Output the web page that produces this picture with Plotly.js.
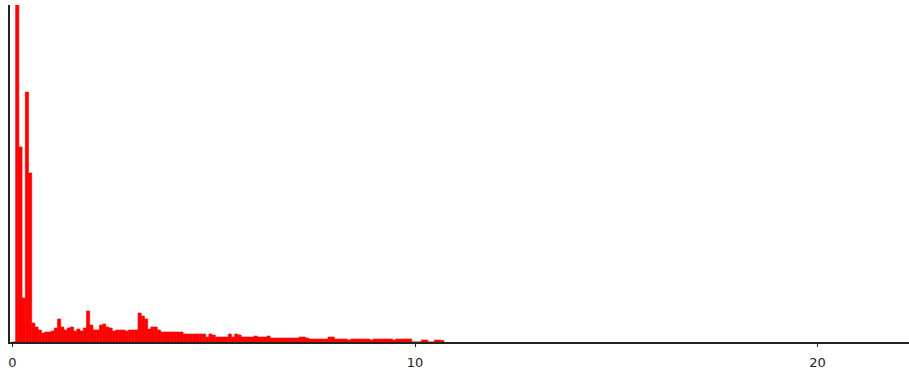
<!DOCTYPE html>
<html>
<head>
<meta charset="utf-8">
<script src="https://cdn.plot.ly/plotly-3.0.1.min.js"></script>
<style>html,body{margin:0;padding:0;background:#fff;}#chart{width:909px;height:376px;}</style>
</head>
<body>
<div id="chart"></div>
<script>
// Histogram bin width (x units) and bar heights per bin, starting at x = 0
const binWidth = 0.08;
const counts = [
  0, 337, 195, 44, 250, 169, 19, 15, 12, 9,
  10, 10, 11, 14, 23, 15, 12, 14, 15, 11,
  13, 11, 14, 31, 17, 12, 12, 17, 18, 15,
  14, 11, 12, 12, 12, 11, 12, 12, 12, 29,
  26, 23, 13, 15, 15, 12, 10, 10, 10, 10,
  10, 10, 10, 8, 8, 8, 8, 8, 8, 8,
  5, 8, 7, 5, 5, 5, 5, 8, 5, 8,
  7, 5, 5, 5, 5, 6, 5, 5, 5, 6,
  4, 4, 4, 4, 4, 4, 4, 4, 4, 5,
  5, 4, 3, 3, 3, 3, 3, 3, 5, 5,
  3, 3, 3, 3, 2, 3, 3, 3, 3, 3,
  3, 2, 3, 3, 3, 3, 3, 3, 2, 3,
  3, 3, 3, 3, 0, 0, 0, 2, 2, 0,
  0, 2, 2, 1.5
];
const tickValues = [0, 10, 20];
const tickLabels = ['0', '10', '20'];

const xCenters = counts.map((_, i) => (i + 0.5) * binWidth);

Plotly.newPlot('chart', [{
  type: 'bar',
  x: xCenters,
  y: counts,
  width: binWidth,
  marker: {color: '#ff0000', line: {width: 0.6, color: '#ff0000'}},
  hoverinfo: 'skip'
}], {
  width: 909,
  height: 376,
  margin: {l: 10, r: 0, t: 5, b: 34, pad: 0},
  paper_bgcolor: '#ffffff',
  plot_bgcolor: '#ffffff',
  showlegend: false,
  bargap: 0,
  xaxis: {
    range: [-0.06, 22.27],
    showgrid: false,
    zeroline: false,
    showline: true,
    linecolor: '#222222',
    linewidth: 2,
    ticks: 'outside',
    ticklen: 3,
    tickwidth: 1,
    tickcolor: '#222222',
    tickmode: 'array',
    tickvals: tickValues,
    ticktext: tickLabels,
    ticklabelstandoff: 4,
    tickfont: {family: 'DejaVu Sans', size: 13, color: '#222222'}
  },
  yaxis: {
    range: [0, 337],
    showgrid: false,
    zeroline: false,
    showline: true,
    linecolor: '#222222',
    linewidth: 2,
    ticks: '',
    showticklabels: false
  }
}, {displayModeBar: false, staticPlot: true});
</script>
</body>
</html>
